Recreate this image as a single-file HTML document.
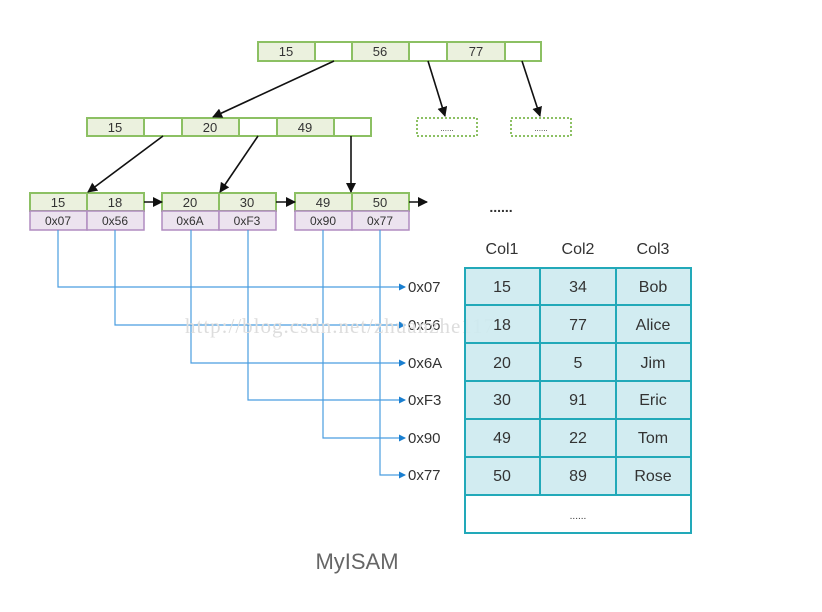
<!DOCTYPE html>
<html><head><meta charset="utf-8"><style>
html,body{margin:0;padding:0;background:#fff;width:822px;height:612px;overflow:hidden}
svg text{font-family:"Liberation Sans","DejaVu Sans",sans-serif}
</style></head><body>
<svg width="822" height="612" viewBox="0 0 822 612" xmlns="http://www.w3.org/2000/svg">
<defs>
<marker id="ab" markerWidth="10" markerHeight="10" refX="9" refY="5" orient="auto" markerUnits="userSpaceOnUse"><path d="M0,0 L10,5 L0,10 z" fill="#111"/></marker>
<marker id="bb" markerWidth="7" markerHeight="7" refX="6" refY="3.5" orient="auto" markerUnits="userSpaceOnUse"><path d="M0,0 L7,3.5 L0,7 z" fill="#1a7fd0"/></marker>
</defs>
<g stroke="#8cc063" stroke-width="2" font-size="12" fill="#333" text-anchor="middle">
<rect x="258" y="42" width="57" height="19" fill="#ebf1de"/><rect x="315" y="42" width="37" height="19" fill="#fff"/>
<rect x="352" y="42" width="57" height="19" fill="#ebf1de"/><rect x="409" y="42" width="38" height="19" fill="#fff"/>
<rect x="447" y="42" width="58" height="19" fill="#ebf1de"/><rect x="505" y="42" width="36" height="19" fill="#fff"/>
<rect x="87" y="118" width="57" height="18" fill="#ebf1de"/><rect x="144" y="118" width="38" height="18" fill="#fff"/>
<rect x="182" y="118" width="57" height="18" fill="#ebf1de"/><rect x="239" y="118" width="38" height="18" fill="#fff"/>
<rect x="277" y="118" width="57" height="18" fill="#ebf1de"/><rect x="334" y="118" width="37" height="18" fill="#fff"/>
<rect x="417" y="118" width="60" height="18" fill="#fff" stroke-dasharray="2,2"/>
<rect x="511" y="118" width="60" height="18" fill="#fff" stroke-dasharray="2,2"/>
<rect x="30" y="193" width="57" height="18" fill="#ebf1de"/><rect x="87" y="193" width="57" height="18" fill="#ebf1de"/>
<rect x="162" y="193" width="57" height="18" fill="#ebf1de"/><rect x="219" y="193" width="57" height="18" fill="#ebf1de"/>
<rect x="295" y="193" width="57" height="18" fill="#ebf1de"/><rect x="352" y="193" width="57" height="18" fill="#ebf1de"/>
</g>
<g stroke="#b08cc0" stroke-width="1.5" fill="#ece3ef">
<rect x="30" y="211" width="57" height="19"/><rect x="87" y="211" width="57" height="19"/>
<rect x="162" y="211" width="57" height="19"/><rect x="219" y="211" width="57" height="19"/>
<rect x="295" y="211" width="57" height="19"/><rect x="352" y="211" width="57" height="19"/>
</g>
<g font-size="13" fill="#333" text-anchor="middle">
<text x="286" y="56">15</text><text x="380" y="56">56</text><text x="476" y="56">77</text>
<text x="115" y="132">15</text><text x="210" y="132">20</text><text x="305" y="132">49</text>
<text x="58" y="207">15</text><text x="115" y="207">18</text><text x="190" y="207">20</text><text x="247" y="207">30</text><text x="323" y="207">49</text><text x="380" y="207">50</text>
<g font-size="12"><text x="58" y="225">0x07</text><text x="115" y="225">0x56</text><text x="190" y="225">0x6A</text><text x="247" y="225">0xF3</text><text x="323" y="225">0x90</text><text x="380" y="225">0x77</text></g>
<text x="447" y="131" font-size="8">......</text><text x="541" y="131" font-size="8">......</text>
<text x="501" y="212" font-size="14" font-weight="bold">......</text>
</g>
<g stroke="#111" stroke-width="1.6" fill="none" marker-end="url(#ab)">
<line x1="334" y1="61" x2="213" y2="117"/>
<line x1="428" y1="61" x2="445" y2="116"/>
<line x1="522" y1="61" x2="540" y2="116"/>
<line x1="163" y1="136" x2="88" y2="192"/>
<line x1="258" y1="136" x2="220" y2="192"/>
<line x1="351" y1="136" x2="351" y2="192"/>
<line x1="144" y1="202" x2="162" y2="202"/>
<line x1="276" y1="202" x2="295" y2="202"/>
<line x1="409" y1="202" x2="427" y2="202"/>
</g>
<g stroke="#4a9ee0" stroke-width="1.2" fill="none">
<path d="M58,230 V287 H405" marker-end="url(#bb)"/>
<path d="M115,230 V325 H405" marker-end="url(#bb)"/>
<path d="M191,230 V363 H405" marker-end="url(#bb)"/>
<path d="M248,230 V400 H405" marker-end="url(#bb)"/>
<path d="M323,230 V438 H405" marker-end="url(#bb)"/>
<path d="M380,230 V475 H405" marker-end="url(#bb)"/>
</g>
<g font-size="15" fill="#333">
<text x="408" y="292">0x07</text><text x="408" y="330">0x56</text><text x="408" y="368">0x6A</text>
<text x="408" y="405">0xF3</text><text x="408" y="443">0x90</text><text x="408" y="480">0x77</text>
</g>
<text x="185" y="333" font-size="21" fill="#ddd" style="font-family:'Liberation Serif',serif;letter-spacing:1px">http://blog.csdn.net/zhuanzhe117</text>
<g stroke="#22a9b9" stroke-width="2">
<rect x="465" y="268" width="226" height="227" fill="#cdeaf0" fill-opacity="0.9"/>
<rect x="465" y="495" width="226" height="38" fill="#fff"/>
<line x1="540" y1="268" x2="540" y2="495"/><line x1="616" y1="268" x2="616" y2="495"/>
<line x1="465" y1="305" x2="691" y2="305"/><line x1="465" y1="343" x2="691" y2="343"/>
<line x1="465" y1="381" x2="691" y2="381"/><line x1="465" y1="419" x2="691" y2="419"/>
<line x1="465" y1="457" x2="691" y2="457"/>
</g>
<g font-size="16" fill="#333" text-anchor="middle">
<text x="502" y="254">Col1</text><text x="578" y="254">Col2</text><text x="653" y="254">Col3</text>
<text x="502" y="292">15</text><text x="578" y="292">34</text><text x="653" y="292">Bob</text>
<text x="502" y="330">18</text><text x="578" y="330">77</text><text x="653" y="330">Alice</text>
<text x="502" y="368">20</text><text x="578" y="368">5</text><text x="653" y="368">Jim</text>
<text x="502" y="405">30</text><text x="578" y="405">91</text><text x="653" y="405">Eric</text>
<text x="502" y="443">49</text><text x="578" y="443">22</text><text x="653" y="443">Tom</text>
<text x="502" y="481">50</text><text x="578" y="481">89</text><text x="653" y="481">Rose</text>
<text x="578" y="519" font-size="10">......</text>
<text x="357" y="569" font-size="22" fill="#666">MyISAM</text>
</g>
</svg>
</body></html>
